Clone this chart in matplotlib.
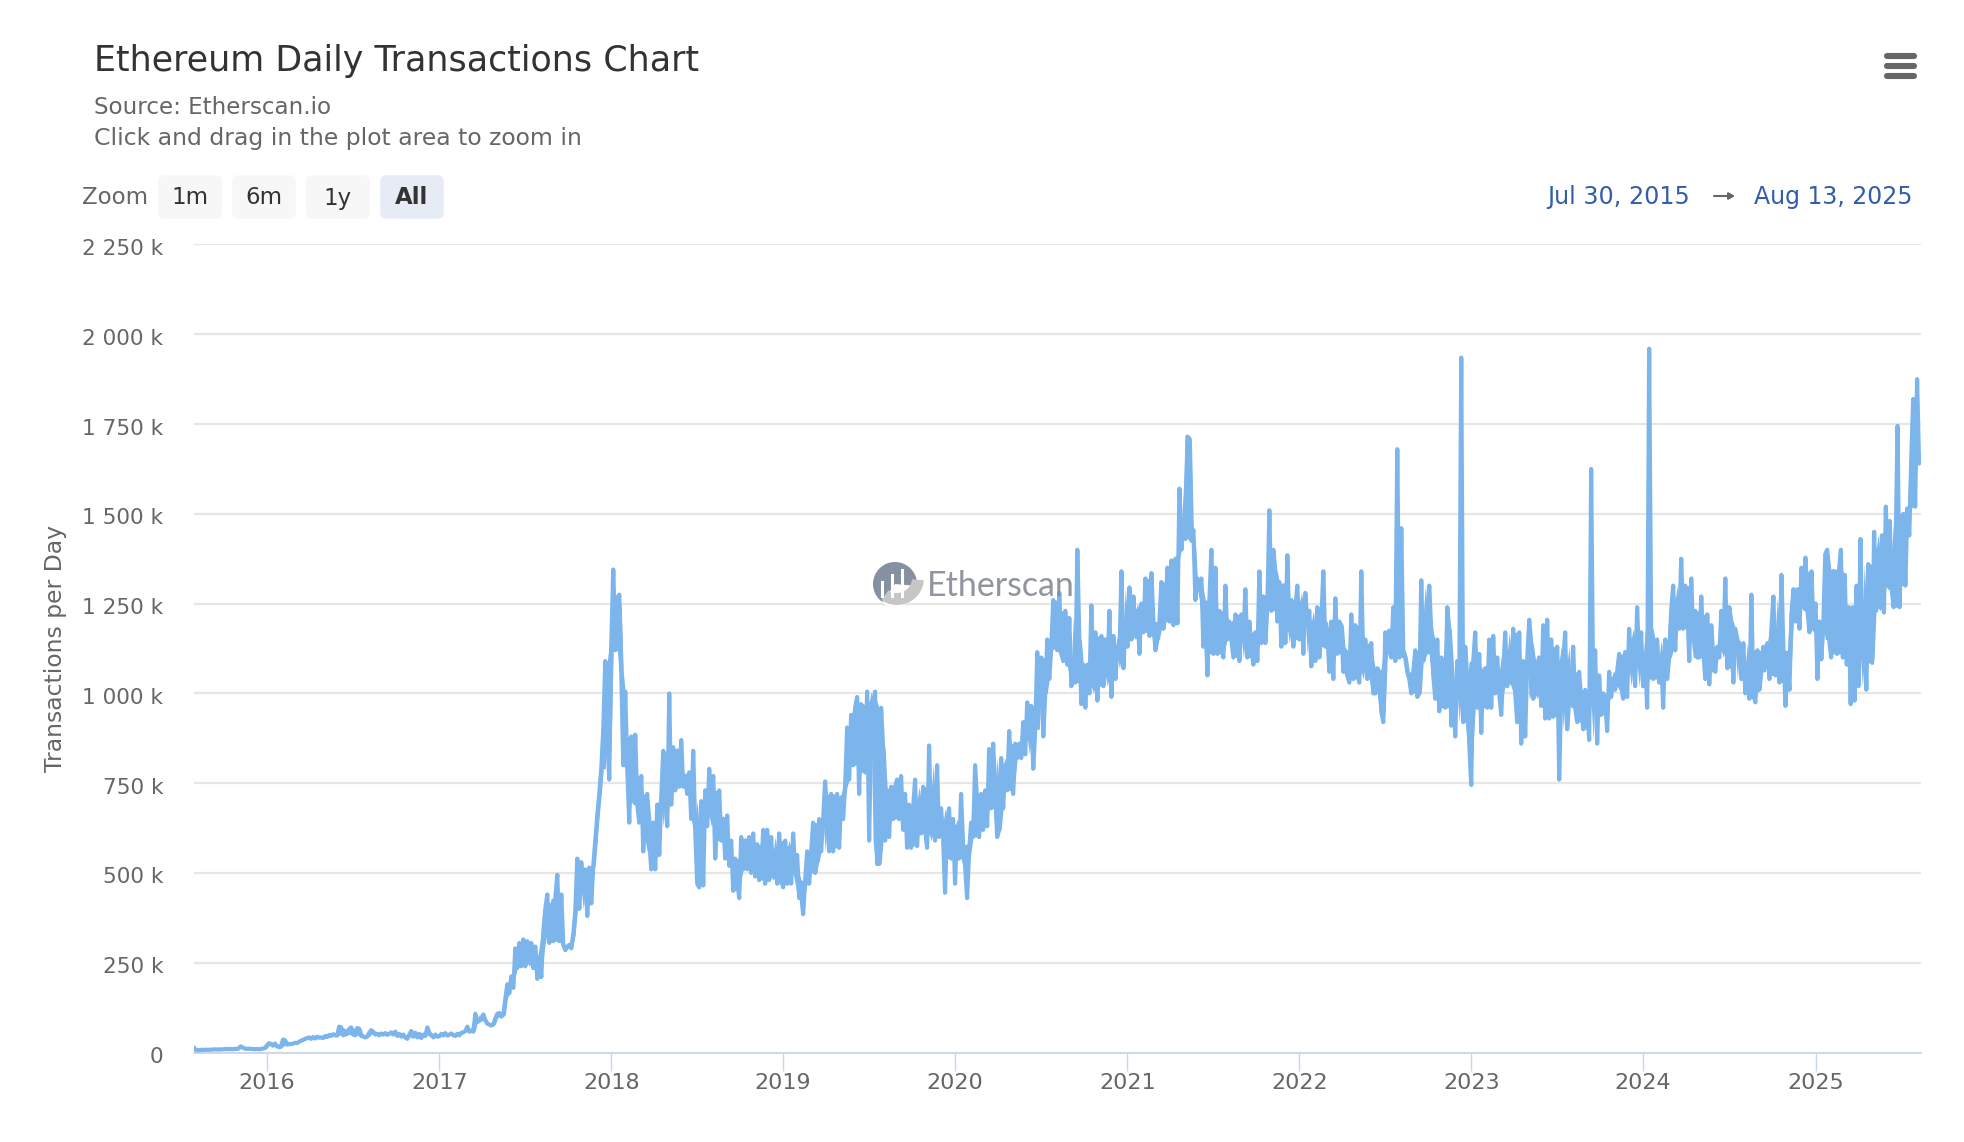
"""
Ethereum daily transactions chart, Highcharts-style page look.
Values are in thousands of transactions, read off the chart by year.
"""
import matplotlib
matplotlib.use("Agg")
import matplotlib.pyplot as plt
import matplotlib.patches as mpatches
import matplotlib.dates as mdates
import matplotlib.transforms as mtrans
import numpy as np
import pandas as pd

tx_2015 = [14, 6, 7, 6, 8, 7, 8, 7, 8, 8, 9, 8, 9, 8, 9, 9, 10, 9, 10, 9, 10, 10, 11, 17, 14, 11, 10, 11, 10, 10, 9, 10, 9, 10, 11, 12]
tx_2016 = [20, 26, 24, 19, 25, 17, 15, 16, 36, 34, 22, 24, 23, 25, 27, 26, 30, 33, 35, 38, 40,
           42, 38, 43, 39, 44, 41, 42, 40, 46, 43, 49, 46, 51, 48, 47, 72, 70, 48, 50, 52, 66, 70, 50, 48, 68, 66,
           46, 45, 42, 44, 55, 62, 58, 50, 52, 48, 53, 50, 54, 49, 52, 56, 50, 58, 46, 52, 44, 50, 42,
           38, 50, 60, 44, 55, 42, 52, 40, 50, 46, 70, 55, 48, 42, 50, 44]
tx_2017 = [45, 52, 48, 54, 47, 50, 53, 48, 46, 52, 48, 55, 56, 60, 72, 58, 60, 58, 108, 85, 88, 95, 106, 90, 80, 78, 75, 78, 95, 108, 110, 100, 105,
           150, 190, 165, 212, 180, 290, 235, 305, 240, 315, 240, 310, 250, 305, 235, 295, 205, 265, 210, 335,
           400, 440, 305, 410, 310, 430, 495, 310, 440, 300, 285, 295, 300, 290, 330, 395, 540, 400, 530, 450, 510, 380, 515, 415, 520,
           590, 660, 720, 790, 900, 1090, 880, 760]
tx_2018 = [1135, 1345, 1120, 1240, 1275, 1060, 800, 1005, 790, 640, 880, 700, 885, 690, 640, 770, 560, 700, 720, 590, 510, 640, 510, 690, 550, 710, 840, 720, 630,
           1000, 690, 850, 730, 840, 740, 870, 740, 770, 720, 780, 650, 840, 620, 470, 460, 700, 465, 730, 630, 790, 660, 770, 540, 640, 730, 590, 650, 540, 660, 520, 590, 450,
           540, 480, 430, 600, 510, 590, 510, 600, 500, 610, 490, 580, 480, 500, 620, 470, 620, 480, 600, 490, 560, 470, 610, 480]
tx_2019 = [460, 590, 470, 570, 470, 610, 500, 550, 430, 440, 385, 480, 560, 470, 560, 640, 500, 530, 650, 560, 650, 755, 660, 560, 720, 560, 640, 720, 570, 710, 650, 740,
           905, 760, 940, 800, 960, 990, 720, 970, 960, 780, 1005, 590, 900, 975, 1005, 525, 525, 960, 850, 590, 730, 600, 740, 650, 740, 760, 650, 770, 620, 720, 570, 690, 570, 680, 760,
           575, 700, 610, 740, 620, 570, 855, 610, 720, 590, 800, 600, 680, 600, 445, 640, 680, 540, 650]
tx_2020 = [470, 630, 540, 720, 580, 520, 430, 560, 640, 600, 800, 700, 600, 720, 620, 730, 630, 845, 680, 860, 740, 600, 620, 820, 680, 800, 730, 895, 760, 720, 860, 820, 860,
           820, 920, 830, 975, 880, 965, 790, 900, 1115, 1000, 1100, 880, 1000, 1150, 1040, 1130, 1260, 1150, 1120, 1280, 1110, 1090, 1230, 1080, 1210, 1020, 1040, 1030, 1400, 1150,
           970, 1080, 960, 1080, 1000, 1245, 1020, 1170, 980, 1120, 1160, 1020, 1150, 1050, 1230, 990, 1160, 1040, 1130, 1100, 1340, 1070, 1200]
tx_2021 = [1130, 1295, 1150, 1270, 1160, 1230, 1110, 1250, 1170, 1320, 1200, 1160, 1335, 1200, 1120, 1150, 1200, 1310, 1180, 1220, 1350, 1200, 1370, 1190, 1375, 1195, 1570, 1400, 1480, 1430, 1715, 1710,
           1425, 1455, 1260, 1320, 1290, 1320, 1130, 1220, 1050, 1260, 1400, 1110, 1350, 1110, 1230, 1130, 1100, 1300, 1150, 1200, 1150, 1100, 1220, 1210, 1090, 1220, 1150, 1290, 1100, 1200, 1130, 1080,
           1170, 1090, 1340, 1140, 1270, 1140, 1240, 1510, 1230, 1400, 1340, 1200, 1310, 1130, 1300, 1140, 1385, 1180, 1260, 1130, 1240, 1300]
tx_2022 = [1150, 1250, 1110, 1280, 1200, 1230, 1075, 1180, 1090, 1240, 1100, 1200, 1340, 1130, 1170, 1060, 1200, 1040, 1265, 1110, 1200, 1190, 1060, 1120, 1050, 1030, 1220, 1040, 1190, 1060, 1030,
           1340, 1080, 1150, 1040, 1100, 1140, 1000, 1000, 1070, 1060, 950, 920, 1170, 1120, 1175, 1100, 1240, 1090, 1680, 1100, 1460, 1120, 1100, 1060, 1040, 1000, 1060, 1120, 990, 1000,
           1315, 1090, 1110, 1220, 1300, 1170, 1050, 985, 1150, 950, 1100, 1000, 960, 1240, 1180, 910, 1000, 880, 1090, 1000, 1935, 920, 1130, 1040, 860]
tx_2023 = [745, 1090, 1170, 960, 1110, 890, 1060, 1070, 960, 1150, 960, 1160, 1000, 1100, 1000, 940, 1060, 1170, 1020, 1110, 1030, 1180, 1000, 920, 1170, 860,
           1090, 880, 1090, 1205, 1140, 985, 1000, 1080, 1100, 965, 1190, 930, 1205, 930, 1150, 935, 1020, 1130, 760, 1000, 1090, 1170, 900, 980, 1000, 1130, 960, 920, 1060, 980, 900, 1010, 970,
           870, 1625, 1000, 1120, 860, 1050, 940, 1000, 980, 895, 1060, 990, 1040, 1010, 1060, 1110, 1020, 985, 1115, 990, 1180, 1070, 1150, 1020, 1240, 1080, 1170]
tx_2024 = [1020, 1100, 960, 1960, 1180, 1040, 1100, 1150, 1030, 1100, 960, 1150, 1040, 1100, 1230, 1300, 1120, 1260, 1180, 1375, 1180, 1300, 1250, 1090, 1320, 1150, 1230, 1100, 1100, 1270, 1120, 1040,
           1220, 1025, 1190, 1100, 1060, 1130, 1100, 1230, 1120, 1320, 1070, 1240, 1200, 1030, 1180, 1150, 1120, 1040, 1140, 1000, 1080, 985, 1275, 1000, 975, 1120, 1010, 1060, 1130, 1080,
           1140, 1040, 1180, 1270, 1050, 1180, 1030, 1330, 1120, 965, 1090, 1010, 1220, 1290, 1200, 1290, 1180, 1350, 1240, 1378, 1230, 1170, 1340, 1180]
tx_2025 = [1250, 1040, 1200, 1095, 1190, 1388, 1400, 1150, 1100, 1340, 1340, 1110, 1340, 1400, 1100, 1330, 1080, 1240, 970, 1240, 980, 1300, 1020, 1430, 1100, 1240, 1010, 1360, 1100, 1085,
           1450, 1230, 1400, 1240, 1440, 1225, 1520, 1300, 1480, 1290, 1240, 1400, 1745, 1240, 1430, 1500, 1300, 1515, 1440, 1650, 1820, 1520, 1875, 1640]

year_series = [
    ("2015-07-30", "2016-01-01", tx_2015),
    ("2016-01-01", "2017-01-01", tx_2016),
    ("2017-01-01", "2018-01-01", tx_2017),
    ("2018-01-01", "2019-01-01", tx_2018),
    ("2019-01-01", "2020-01-01", tx_2019),
    ("2020-01-01", "2021-01-01", tx_2020),
    ("2021-01-01", "2022-01-01", tx_2021),
    ("2022-01-01", "2023-01-01", tx_2022),
    ("2023-01-01", "2024-01-01", tx_2023),
    ("2024-01-01", "2025-01-01", tx_2024),
    ("2025-01-01", "2025-08-13", tx_2025),
]

y_ticks = [0, 250, 500, 750, 1000, 1250, 1500, 1750, 2000, 2250]
y_labels = ["0", "250 k", "500 k", "750 k", "1 000 k", "1 250 k", "1 500 k", "1 750 k", "2 000 k", "2 250 k"]
x_years = list(range(2016, 2026))
zoom_buttons = ["1m", "6m", "1y", "All"]

W, H = 1964, 1142
LINE = "#7cb5ec"
GRID = "#e6e6e6"
AXIS = "#ccd6eb"
MUTED = "#666666"
DARK = "#333333"
RANGE_BLUE = "#335cad"

plt.rcParams["font.family"] = ["DejaVu Sans"]

fig = plt.figure(figsize=(W / 100, H / 100), dpi=100, facecolor="white")

# plot area in page pixels: x 194-1921, y 244-1052
ax = fig.add_axes([194 / W, 1 - 1052.5 / H, (1921 - 194) / W, (1052.5 - 244.5) / H])
for spine in ax.spines.values():
    spine.set_visible(False)
ax.spines["bottom"].set_visible(True)
ax.spines["bottom"].set_color(AXIS)
ax.spines["bottom"].set_linewidth(1.3)

dates, values = [], []
for start, end, vals in year_series:
    # points are spread evenly inside each year's span
    span = pd.Timestamp(end) - pd.Timestamp(start)
    dates.extend(pd.Timestamp(start) + span * (i / len(vals)) for i in range(len(vals)))
    values.extend(vals)
values = np.array(values, dtype=float)

# the original is daily, so its zigzag closes up solid. Fill up to the second
# highest / second lowest neighbour, which leaves lone spikes thin.
upper, lower = values.copy(), values.copy()
for i in range(len(values)):
    near = np.sort(np.r_[values[max(i - 2, 0):i], values[i + 1:i + 3]])
    upper[i] = max(values[i], near[-2])
    lower[i] = min(values[i], near[1])
ax.fill_between(dates, lower, upper, color=LINE, lw=0, zorder=3)
ax.plot(dates, values, color=LINE, lw=3.0, solid_joinstyle="round", solid_capstyle="round", zorder=3)

ax.set_xlim(pd.Timestamp("2015-07-30"), pd.Timestamp("2025-08-13"))
ax.set_ylim(0, 2250)
ax.set_yticks(y_ticks)
ax.set_yticklabels(y_labels)
ax.set_xticks([pd.Timestamp(f"{y}-01-01") for y in x_years])
ax.xaxis.set_major_formatter(mdates.DateFormatter("%Y"))
ax.grid(True, axis="y", color=GRID, lw=1.6)
ax.set_axisbelow(True)
ax.tick_params(axis="y", length=0, pad=22, labelsize=15.6, labelcolor=MUTED)
ax.tick_params(axis="x", length=13, width=1, color=AXIS, pad=2, labelsize=16, labelcolor=MUTED)
down = mtrans.ScaledTranslation(0, -2.5 / 100, fig.dpi_scale_trans)
for lbl in ax.get_yticklabels():
    lbl.set_transform(lbl.get_transform() + down)

# page furniture drawn in pixel coordinates
ui = fig.add_axes([0, 0, 1, 1], zorder=5)
ui.set_xlim(0, W)
ui.set_ylim(H, 0)
ui.axis("off")
ui.patch.set_alpha(0)

ui.text(94, 61, "Ethereum Daily Transactions Chart", fontsize=25.1, color=DARK, va="center")
ui.text(94, 107, "Source: Etherscan.io", fontsize=16.6, color=MUTED, va="center")
ui.text(94, 138, "Click and drag in the plot area to zoom in", fontsize=16.9, color=MUTED, va="center")
ui.text(82, 198, "Zoom", fontsize=16.5, color=MUTED, va="center")
ui.text(56, 648, "Transactions per Day", fontsize=16.9, color=MUTED, rotation=90, ha="center", va="center")

for i, name in enumerate(zoom_buttons):
    x0 = 158 + i * 74
    active = name == "All"
    ui.add_patch(mpatches.FancyBboxPatch((x0 + 3, 178), 58, 38, boxstyle="round,pad=0,rounding_size=3",
                                         mutation_aspect=1, fc="#e6ebf5" if active else "#f7f7f7", ec="#e6ebf5" if active else "#f7f7f7", lw=4))
    ui.text(x0 + 32, 198, name, fontsize=16.5, color=DARK, ha="center", va="center",
            fontweight="bold" if active else "normal")

ui.text(1690, 197, "Jul 30, 2015", fontsize=17.2, color=RANGE_BLUE, ha="right", va="center")
ui.text(1913, 197, "Aug 13, 2025", fontsize=17, color=RANGE_BLUE, ha="right", va="center")
ui.annotate("", xy=(1735, 196), xytext=(1714, 196),
            arrowprops=dict(arrowstyle="-|>,head_length=0.35,head_width=0.2", color=MUTED, lw=1.5, shrinkA=0, shrinkB=0))

# menu icon
for y in [56, 66, 76]:
    ui.plot([1887, 1914], [y, y], color=MUTED, lw=4.4, solid_capstyle="round")

# watermark logo
WM = "#8a8f99"
ui.add_patch(mpatches.Wedge((895, 584), 22, 0, 360, width=None, fc="#7e8b9c", ec="none", alpha=0.95, zorder=6))
ui.add_patch(mpatches.Wedge((895, 584), 22.5, 5, 125, fc="white", ec="none", zorder=7))
ui.add_patch(mpatches.Wedge((897, 578), 27, 5, 125, width=12, fc="#c6c6c6", ec="none", zorder=7.5))
ui.add_patch(mpatches.Rectangle((873, 606), 46, 12, fc="white", ec="none", zorder=7.6))
for bx, top in [(882, 582), (892, 575), (902, 570)]:
    ui.plot([bx, bx], [top, 596], color="white", lw=2.2, zorder=8)
ui.text(927, 586, "Etherscan", fontsize=24.4, family="Lato", color=WM, va="center", alpha=0.95, zorder=8)

fig.savefig("out.png", dpi=100, facecolor="white")
plt.close(fig)
